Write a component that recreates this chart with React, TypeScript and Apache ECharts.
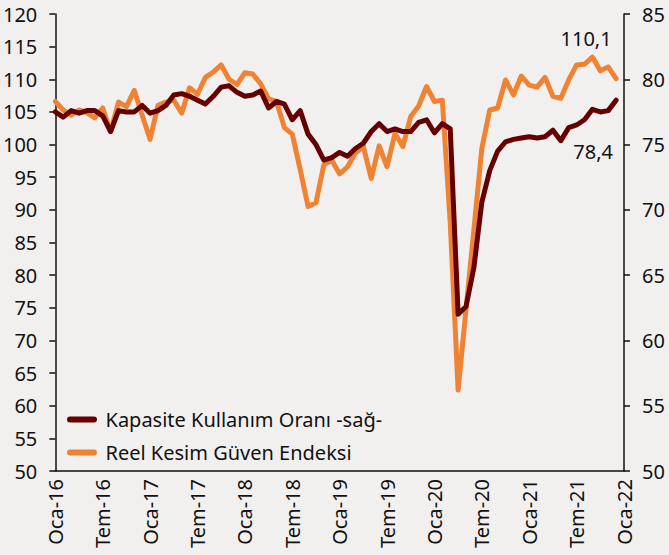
import React, { useEffect, useRef } from "react";
import * as echarts from "echarts";

const monthNames = ["Oca", "Şub", "Mar", "Nis", "May", "Haz", "Tem", "Ağu", "Eyl", "Eki", "Kas", "Ara"];
const years = [16, 17, 18, 19, 20, 21, 22];

const categories: string[] = [];
years.forEach((y) => {
  monthNames.forEach((m) => {
    if (y < 22 || m === "Oca") categories.push(`${m}-${y}`);
  });
});

const leftTicks = { min: 50, max: 120, interval: 5 };
const rightTicks = { min: 50, max: 85, interval: 5 };

const kapasite = [
  77.5, 77.1, 77.6, 77.4, 77.6, 77.6, 77.2, 76.0, 77.6, 77.5, 77.5, 78.0,
  77.4, 77.6, 78.0, 78.8, 78.9, 78.7, 78.4, 78.1, 78.7, 79.4, 79.5, 79.0,
  78.7, 78.8, 79.1, 77.8, 78.3, 78.1, 76.9, 77.6, 75.8, 75.0, 73.8, 74.0,
  74.4, 74.1, 74.7, 75.1, 76.0, 76.6, 76.0, 76.2, 76.0, 76.0, 76.7, 76.9,
  75.9, 76.6, 76.2, 62.0, 62.6, 65.6, 70.6, 73.0, 74.5, 75.2, 75.4, 75.5,
  75.6, 75.5, 75.6, 76.1, 75.3, 76.3, 76.5, 76.9, 77.7, 77.5, 77.6, 78.4,
];

const reelKesim = [
  106.6, 105.3, 104.5, 105.3, 104.9, 104.1, 105.6, 102.0, 106.5, 105.8, 108.3, 104.5,
  100.8, 106.0, 106.5, 106.8, 104.8, 108.7, 107.7, 110.3, 111.1, 112.2, 110.0, 109.2,
  111.0, 110.8, 109.3, 107.0, 106.6, 102.6, 101.6, 96.2, 90.5, 91.1, 96.9, 97.6,
  95.5, 96.6, 98.7, 99.7, 94.8, 99.8, 96.6, 101.7, 99.7, 104.3, 105.9, 108.9,
  106.6, 106.8, 88.0, 62.4, 74.8, 87.0, 99.4, 105.3, 105.6, 109.9, 107.6, 110.5,
  109.1, 108.8, 110.3, 107.4, 107.1, 109.9, 112.2, 112.3, 113.4, 111.3, 111.9, 110.1,
];

const seriesNames = ["Kapasite Kullanım Oranı -sağ-", "Reel Kesim Güven Endeksi"];
const lastLabels = ["78,4", "110,1"];

const FONT = "Noto Sans";
const FS = 20;
const DARK = "#660000";
const ORANGE = "#f08333";
const BG = "#f2f0ef";

export default function App() {
  const ref = useRef<HTMLDivElement>(null);

  useEffect(() => {
    document.body.style.margin = "0";
    document.body.style.background = BG;
    if (!ref.current) return;
    const chart = echarts.init(ref.current, null, { renderer: "svg" });

    const lastPointMark = (arr: number[], text: string, offset: number[]) => ({
      symbol: "circle",
      symbolSize: 0,
      silent: true,
      data: [
        {
          coord: [arr.length - 1, arr[arr.length - 1]],
          label: {
            show: true,
            formatter: text,
            position: "inside",
            offset,
            fontFamily: FONT,
            fontSize: FS,
            color: "#111",
          },
        },
      ],
    });

    const legendIcon = "path://M3,0 L27,0 A3,3 0 0 1 27,6 L3,6 A3,3 0 0 1 3,0 Z";

    chart.setOption({
      animation: false,
      backgroundColor: BG,
      grid: { left: 54, right: 45, top: 14, bottom: 84, containLabel: false },
      legend: {
        orient: "vertical",
        left: 62,
        top: 403,
        itemWidth: 31,
        itemHeight: 6,
        itemGap: 10,
        data: [
          { name: seriesNames[0], icon: legendIcon },
          { name: seriesNames[1], icon: legendIcon },
        ],
        textStyle: {
          fontFamily: FONT,
          fontSize: FS,
          color: "#111",
          lineHeight: 23,
          padding: [0, 0, 0, 3],
        },
      },
      xAxis: {
        type: "category",
        data: categories,
        boundaryGap: false,
        axisLine: { lineStyle: { color: "#111", width: 1.5 } },
        axisTick: { show: false },
        axisLabel: {
          interval: 5,
          rotate: 90,
          margin: 8,
          fontFamily: FONT,
          fontSize: FS,
          color: "#111",
        },
        splitLine: { show: false },
      },
      yAxis: [
        {
          type: "value",
          ...leftTicks,
          position: "left",
          axisLine: { show: true, lineStyle: { color: "#111", width: 1.5 } },
          axisTick: { show: true, length: 6, lineStyle: { color: "#111", width: 1.5 } },
          axisLabel: { margin: 18, fontFamily: FONT, fontSize: FS, color: "#111" },
          splitLine: { show: false },
        },
        {
          type: "value",
          ...rightTicks,
          position: "right",
          axisLine: { show: true, lineStyle: { color: "#111", width: 1.5 } },
          axisTick: { show: true, length: 6, lineStyle: { color: "#111", width: 1.5 } },
          axisLabel: { margin: 18, fontFamily: FONT, fontSize: FS, color: "#111" },
          splitLine: { show: false },
        },
      ],
      series: [
        {
          name: seriesNames[1],
          type: "line",
          yAxisIndex: 0,
          data: reelKesim,
          showSymbol: false,
          symbol: "none",
          itemStyle: { color: ORANGE },
          lineStyle: { color: ORANGE, width: 5, cap: "round", join: "round" },
          markPoint: lastPointMark(reelKesim, lastLabels[1], [-30, -40]),
          z: 2,
        },
        {
          name: seriesNames[0],
          type: "line",
          yAxisIndex: 1,
          data: kapasite,
          showSymbol: false,
          symbol: "none",
          itemStyle: { color: DARK },
          lineStyle: { color: DARK, width: 5, cap: "round", join: "round" },
          markPoint: lastPointMark(kapasite, lastLabels[0], [-23, 51]),
          z: 3,
        },
      ],
    });

    return () => chart.dispose();
  }, []);

  return <div ref={ref} style={{ width: 669, height: 555 }} />;
}
